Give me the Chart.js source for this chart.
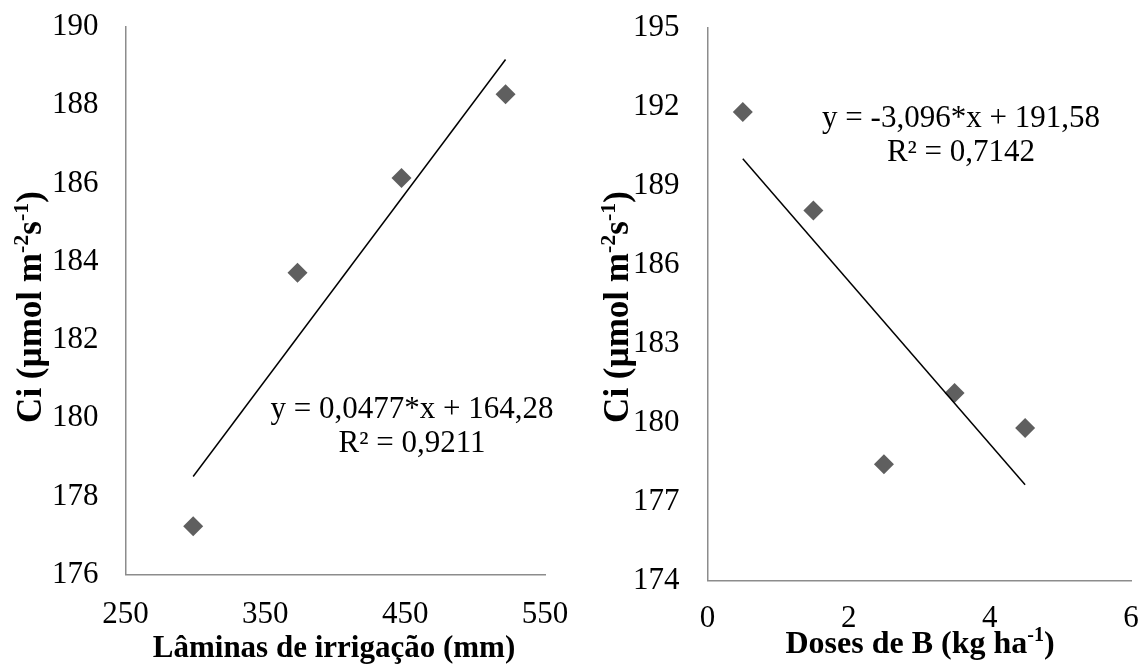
<!DOCTYPE html>
<html>
<head>
<meta charset="utf-8">
<script src="https://cdn.jsdelivr.net/npm/chart.js@4"></script>
<style>
  html, body { margin: 0; padding: 0; background: #ffffff; }
  #wrap { position: relative; width: 1142px; height: 664px; overflow: hidden; }
  .panel { position: absolute; top: 0; height: 664px; }
  #p1 { left: 0; width: 580px; }
  #p2 { left: 580px; width: 562px; }
  canvas { display: block; }
</style>
</head>
<body>
<div id="wrap">
  <div class="panel" id="p1"><canvas id="c1" width="580" height="664"></canvas></div>
  <div class="panel" id="p2"><canvas id="c2" width="562" height="664"></canvas></div>
</div>
<script>
// Panel 1: Ci against irrigation depth
const laminas = [298.4, 373.0, 447.4, 521.8];
const ciLaminas = [177.24, 183.72, 186.14, 188.28];
const fitLaminas = [0.0477, 164.28];            // slope, intercept
const eqLaminas = ['y = 0,0477*x + 164,28', 'R² = 0,9211'];
const xTicksLaminas = [250, 350, 450, 550];
const yTicksLaminas = [176, 178, 180, 182, 184, 186, 188, 190];

// Panel 2: Ci against boron dose
const dosesB = [0.5, 1.5, 2.5, 3.5, 4.5];
const ciDoses = [191.81, 188.07, 178.43, 181.13, 179.80];
const fitDoses = [-3.096, 191.58];              // slope, intercept
const eqDoses = ['y = -3,096*x + 191,58', 'R² = 0,7142'];
const xTicksDoses = [0, 2, 4, 6];
const yTicksDoses = [174, 177, 180, 183, 186, 189, 192, 195];

const FAMILY = '"Liberation Serif", "Times New Roman", serif';
const AXIS_GREY = '#8c8c8c';
const MARKER_GREY = '#5f5f5f';

// Draw a run of text pieces, some of them superscript, starting or centred at x.
function drawRich(ctx, parts, size, weight, x, y, align) {
  const fontFor = sup => `${weight} ${sup ? Math.round(size * 0.62) : size}px ${FAMILY}`;
  let total = 0;
  const widths = parts.map(([t, sup]) => { ctx.font = fontFor(sup); const w = ctx.measureText(t).width; total += w; return w; });
  let cx = align === 'center' ? x - total / 2 : x;
  ctx.textAlign = 'left';
  ctx.textBaseline = 'alphabetic';
  parts.forEach(([t, sup], i) => {
    ctx.font = fontFor(sup);
    ctx.fillText(t, cx, sup ? y - size * 0.36 : y);
    cx += widths[i];
  });
}

function fitLine(xs, fit) {
  const lo = Math.min(...xs), hi = Math.max(...xs);
  return [{ x: lo, y: fit[0] * lo + fit[1] }, { x: hi, y: fit[0] * hi + fit[1] }];
}

// Let the layout padding alone decide the outer margins (labels may overhang).
function noOverhang(scale) {
  scale.paddingTop = 0;
  scale.paddingBottom = 0;
  scale.paddingLeft = 0;
  scale.paddingRight = 0;
}

function makePanel(canvas, cfg) {
  const annotations = {
    id: 'panelText',
    afterDraw(chart) {
      const ctx = chart.ctx;
      ctx.save();
      ctx.fillStyle = '#000';
      // y-axis title, rotated
      ctx.save();
      ctx.translate(cfg.yTitle.x, cfg.yTitle.y);
      ctx.rotate(-Math.PI / 2);
      drawRich(ctx, cfg.yTitle.parts, cfg.yTitle.size, 'bold', 0, 0, 'center');
      ctx.restore();
      // x-axis title
      drawRich(ctx, cfg.xTitle.parts, cfg.xTitle.size, 'bold', cfg.xTitle.x, cfg.xTitle.y, 'center');
      // regression equation and R²
      cfg.eq.lines.forEach((line, i) => {
        drawRich(ctx, [[line, false]], cfg.eq.size, 'normal', cfg.eq.x, cfg.eq.y + i * cfg.eq.gap, 'center');
      });
      ctx.restore();
    }
  };

  const tickFont = { family: FAMILY, size: 31 };
  return new Chart(canvas, {
    type: 'scatter',
    data: {
      datasets: [
        {
          type: 'line',
          data: fitLine(cfg.xs, cfg.fit),
          borderColor: '#000000',
          borderWidth: 1.5,
          pointRadius: 0,
          fill: false,
          tension: 0
        },
        {
          data: cfg.xs.map((x, i) => ({ x, y: cfg.ys[i] })),
          pointStyle: 'rectRot',
          pointRadius: 10,
          pointHoverRadius: 10,
          backgroundColor: MARKER_GREY,
          borderColor: MARKER_GREY,
          borderWidth: 0
        }
      ]
    },
    options: {
      responsive: false,
      animation: false,
      devicePixelRatio: 1,
      layout: { padding: cfg.padding },
      plugins: { legend: { display: false }, tooltip: { enabled: false } },
      scales: {
        x: {
          type: 'linear',
          min: cfg.xTicks[0],
          max: cfg.xTicks[cfg.xTicks.length - 1],
          afterBuildTicks: s => { s.ticks = cfg.xTicks.map(v => ({ value: v })); },
          afterFit: noOverhang,
          ticks: { font: tickFont, color: '#000', padding: cfg.xTickPad, maxRotation: 0, autoSkip: false },
          grid: { display: false, drawTicks: false },
          border: { color: AXIS_GREY, width: 1.5 }
        },
        y: {
          type: 'linear',
          min: cfg.yTicks[0],
          max: cfg.yTicks[cfg.yTicks.length - 1],
          afterBuildTicks: s => { s.ticks = cfg.yTicks.map(v => ({ value: v })); },
          afterFit: noOverhang,
          ticks: { font: tickFont, color: '#000', padding: cfg.yTickPad, autoSkip: false },
          grid: { display: false, drawTicks: false },
          border: { color: AXIS_GREY, width: 1.5 }
        }
      }
    },
    plugins: [annotations]
  });
}

const ciTitle = [['Ci (µmol m', false], ['-2', true], ['s', false], ['-1', true], [')', false]];

makePanel(document.getElementById('c1'), {
  xs: laminas, ys: ciLaminas, fit: fitLaminas,
  xTicks: xTicksLaminas, yTicks: yTicksLaminas,
  padding: { left: 25, top: 27, right: 35, bottom: 10 },
  xTickPad: 21, yTickPad: 27,
  yTitle: { parts: ciTitle, size: 35, x: 41, y: 307 },
  xTitle: { parts: [['Lâminas de irrigação (mm)', false]], size: 31, x: 334, y: 657 },
  eq: { lines: eqLaminas, size: 31, x: 412, y: 418, gap: 33.7 }
});

makePanel(document.getElementById('c2'), {
  xs: dosesB, ys: ciDoses, fit: fitDoses,
  xTicks: xTicksDoses, yTicks: yTicksDoses,
  padding: { left: 25, top: 28, right: 11, bottom: 8 },
  xTickPad: 19, yTickPad: 28,
  yTitle: { parts: ciTitle, size: 35, x: 48, y: 307 },
  xTitle: { parts: [['Doses de B (kg ha', false], ['-1', true], [')', false]], size: 32, x: 340, y: 653 },
  eq: { lines: eqDoses, size: 31, x: 381, y: 127, gap: 33.7 }
});
</script>
</body>
</html>
